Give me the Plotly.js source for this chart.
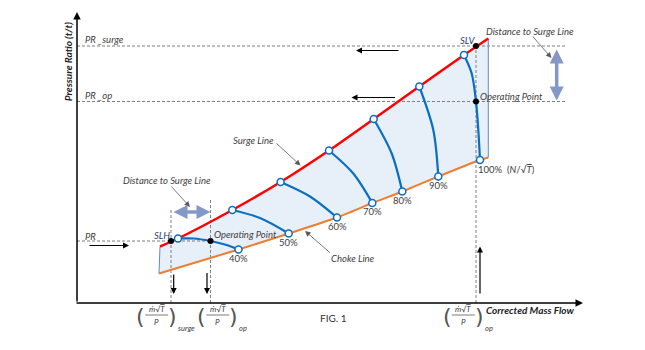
<!DOCTYPE html>
<html>
<head>
<meta charset="utf-8">
<script src="https://cdn.plot.ly/plotly-3.0.1.min.js"></script>
<style>html,body{margin:0;padding:0;background:#fff;}#chart{width:645px;height:350px;}</style>
</head>
<body>
<div id="chart"></div>
<script>
// ---- data (corrected mass flow x, pressure ratio y; schematic units) ----
const surgeX = [16.6, 20.2, 31.06, 40.72, 50.4, 59.34, 68.46, 77.4, 82.26];
const surgeY = [2.13, 2.29, 2.86, 3.42, 4.05, 4.68, 5.33, 5.96, 6.29];
const chokeX = [16.4, 32.3, 42.34, 52.0, 59.06, 65.06, 72.26, 80.6, 82.26];
const chokeY = [1.59, 2.07, 2.39, 2.71, 3.0, 3.23, 3.53, 3.86, 3.91];

const speedLabels = ['40%', '50%', '60%', '70%', '80%', '90%', '100%  (<i>N</i>/√<span style="text-decoration:overline"><i>T</i></span>)'];
const speed40X = [20.2, 23.26, 26.7, 29.94, 32.3];
const speed40Y = [2.29, 2.29, 2.24, 2.16, 2.07];
const speed50X = [31.06, 36.6, 42.34];
const speed50Y = [2.86, 2.70, 2.39];
const speed60X = [40.72, 46.6, 52.0];
const speed60Y = [3.42, 3.13, 2.71];
const speed70X = [50.4, 55.26, 59.06];
const speed70Y = [4.05, 3.59, 3.0];
const speed80X = [59.34, 62.94, 65.06];
const speed80Y = [4.68, 3.99, 3.23];
const speed90X = [68.46, 71.26, 72.26];
const speed90Y = [5.33, 4.46, 3.53];
const speed100X = [77.4, 78.94, 79.8, 80.26, 80.6];
const speed100Y = [5.96, 5.59, 5.03, 4.46, 3.86];

const prLow = 2.24, prOp = 5.03, prSurge = 6.14;
const mSurgeLow = 18.8, mOpLow = 26.7, mOpHigh = 79.8;
const blackX = [mSurgeLow, mOpLow, mOpHigh, mOpHigh];
const blackY = [prLow, prLow, prSurge, prOp];

// ---- build traces ----
const speedsX = [speed40X, speed50X, speed60X, speed70X, speed80X, speed90X, speed100X];
const speedsY = [speed40Y, speed50Y, speed60Y, speed70Y, speed80Y, speed90Y, speed100Y];
const BLUE = '#0a6fc2';
const traces = [];

traces.push({
  x: surgeX.concat(chokeX.slice().reverse()),
  y: surgeY.concat(chokeY.slice().reverse()),
  mode: 'lines', fill: 'toself', fillcolor: '#e7eff9',
  line: {width: 0, color: 'rgba(0,0,0,0)'}, hoverinfo: 'skip'
});
traces.push({x: [surgeX[0], chokeX[0]], y: [surgeY[0], chokeY[0]], mode: 'lines', line: {color: '#6688c4', width: 1}});
const nL = surgeX.length - 1;
traces.push({x: [surgeX[nL], chokeX[nL]], y: [surgeY[nL], chokeY[nL]], mode: 'lines', line: {color: '#6688c4', width: 1}});
const DASH = {color: '#7f7f7f', width: 1, dash: '3px,2px'};
traces.push({x: [0, 97.9], y: [prSurge, prSurge], mode: 'lines', line: DASH});
traces.push({x: [0, 97.9], y: [prOp, prOp], mode: 'lines', line: DASH});
traces.push({x: [0, mOpLow], y: [prLow, prLow], mode: 'lines', line: DASH});
traces.push({x: [mSurgeLow, mSurgeLow], y: [1, 2.86], mode: 'lines', line: DASH});
traces.push({x: [mOpLow, mOpLow], y: [1, 3.06], mode: 'lines', line: DASH});
traces.push({x: [mOpHigh, mOpHigh], y: [1, prSurge], mode: 'lines', line: DASH});
traces.push({x: chokeX, y: chokeY, mode: 'lines', line: {color: '#ed7d31', width: 2, shape: 'spline', smoothing: 0.6}});
traces.push({x: surgeX, y: surgeY, mode: 'lines', line: {color: '#ff0000', width: 2.5, shape: 'spline', smoothing: 0.6}});
speedsX.forEach((sx, i) => {
  traces.push({x: sx, y: speedsY[i], mode: 'lines', line: {color: BLUE, width: 2.2, shape: 'spline', smoothing: 0.9}});
});
const endX = [], endY = [];
speedsX.forEach((sx, i) => {
  endX.push(sx[0], sx[sx.length - 1]);
  endY.push(speedsY[i][0], speedsY[i][speedsY[i].length - 1]);
});
traces.push({x: endX, y: endY, mode: 'markers', marker: {size: 7, color: '#ffffff', line: {color: BLUE, width: 1.5}}});
traces.push({x: blackX, y: blackY, mode: 'markers', marker: {size: 6, color: '#000000'}});

// ---- annotations ----
const FONT = 'Lato, "Open Sans", sans-serif';
const TXT = '#404040';
const ann = [];
function txt(x, y, text, o) {
  o = o || {};
  ann.push(Object.assign({x: x, y: y, xref: 'x', yref: 'y', text: text, showarrow: false, borderpad: 0,
    font: {family: FONT, size: o.size || 9.5, color: o.color || TXT}, xanchor: o.xa || 'center', yanchor: 'middle'}, o.extra || {}));
}
function arrow(x0, y0, x1, y1, o) {
  o = o || {};
  ann.push(Object.assign({x: x1, y: y1, ax: x0, ay: y0, xref: 'x', yref: 'y', axref: 'x', ayref: 'y', text: '',
    showarrow: true, arrowhead: o.head || 2, arrowsize: o.size || 1, arrowwidth: o.width || 1.2,
    arrowcolor: o.color || '#000', standoff: 0, startstandoff: 0}, o.extra || {}));
}
arrow(0, 1, 0, 6.82, {width: 1.5, size: 1});
arrow(-0.4, 1, 101.2, 1, {width: 1.5, size: 1});
txt(-1.74, 5.84, '<b><i>Pressure Ratio (t/t)</i></b>', {size: 10, color: '#222', extra: {textangle: -90}});
txt(81.6, 0.86, '<b><i>Corrected Mass Flow</i></b>', {size: 10, color: '#222', xa: 'left'});
txt(51.26, 0.71, 'FIG. 1', {size: 10, color: '#333'});
txt(1.4, 6.27, '<i>PR _surge</i>', {xa: 'left'});
txt(1.4, 5.16, '<i>PR _op</i>', {xa: 'left'});
txt(1.4, 2.34, '<i>PR</i>', {xa: 'left'});
speedsX.forEach((sx, i) => {
  const lx = sx[sx.length - 1], ly = speedsY[i][speedsY[i].length - 1];
  if (i < 6) txt(lx, ly - 0.17, speedLabels[i]);
  else txt(lx - 0.6, ly - 0.19, speedLabels[i], {xa: 'left'});
});
txt(16.94, 2.35, '<i>SLH</i>', {color: '#1f3c78'});
txt(78.1, 6.25, '<i>SLV</i>', {color: '#1f3c78'});
txt(27.2, 2.38, '<i>Operating Point</i>', {xa: 'left'});
txt(80.3, 5.14, '<i>Operating Point</i>', {xa: 'left'});
txt(18.0, 3.46, '<i>Distance to Surge Line</i>');
txt(90.5, 6.43, '<i>Distance to Surge Line</i>');
txt(35.3, 4.26, '<i>Surge Line</i>');
txt(55.2, 1.89, '<i>Choke Line</i>');
const PC = '#595959';
arrow(18.6, 3.36, 22.6, 2.92, {width: 0.8, size: 1.4, color: PC});
arrow(90.9, 6.36, 94.9, 5.9, {width: 0.8, size: 1.4, color: PC});
arrow(39.6, 4.22, 44.7, 3.75, {width: 0.8, size: 1.4, color: PC});
arrow(50.9, 1.98, 45.6, 2.44, {width: 0.8, size: 1.4, color: PC});
arrow(2.2, 2.15, 10.4, 2.15, {width: 1.2});
arrow(19.34, 1.6, 19.34, 1.18, {width: 1.2});
arrow(26.0, 1.63, 26.0, 1.18, {width: 1.2});
arrow(80.6, 1.16, 80.6, 2.13, {width: 1.2});
arrow(64.6, 6.05, 55.8, 6.05, {width: 1.2});
arrow(63.9, 5.11, 54.9, 5.11, {width: 1.2});
arrow(19.0, 2.82, 26.7, 2.82, {width: 3.5, size: 0.8, color: '#8498c8', head: 2, extra: {arrowside: 'end+start'}});
arrow(95.94, 6.1, 95.94, 5.05, {width: 3.5, size: 0.8, color: '#8498c8', head: 2, extra: {arrowside: 'end+start'}});
const fracCenters = [15.94, 28.16, 77.26];
const fracSubs = ['surge', 'op', 'op'];
const shapes = [];
fracCenters.forEach((cx, i) => {
  txt(cx - 3.2, 0.74, '(', {extra: {font: {family: '"DejaVu Sans", sans-serif', size: 22, color: '#555'}}});
  txt(cx + 3.2, 0.74, ')', {extra: {font: {family: '"DejaVu Sans", sans-serif', size: 22, color: '#555'}}});
  txt(cx, 0.88, '<i>ṁ</i>√<span style="text-decoration:overline"><i>T</i></span>', {size: 8});
  txt(cx, 0.63, '<i>P</i>', {size: 8});
  txt(cx + 4.1, 0.5, '<i>' + fracSubs[i] + '</i>', {size: 7.5, xa: 'left'});
  shapes.push({type: 'line', xref: 'x', yref: 'y', x0: cx - 2.3, x1: cx + 2.3, y0: 0.76, y1: 0.76, line: {color: '#444', width: 0.7}});
});

const layout = {
  width: 645, height: 350, margin: {l: 0, r: 0, t: 0, b: 0},
  paper_bgcolor: '#fff', plot_bgcolor: '#fff', showlegend: false,
  xaxis: {range: [-15.4, 113.6], visible: false, fixedrange: true},
  yaxis: {range: [0.06, 7.06], visible: false, fixedrange: true},
  annotations: ann, shapes: shapes, hovermode: false
};
Plotly.newPlot('chart', traces, layout, {staticPlot: true, displayModeBar: false});
</script>
</body>
</html>
